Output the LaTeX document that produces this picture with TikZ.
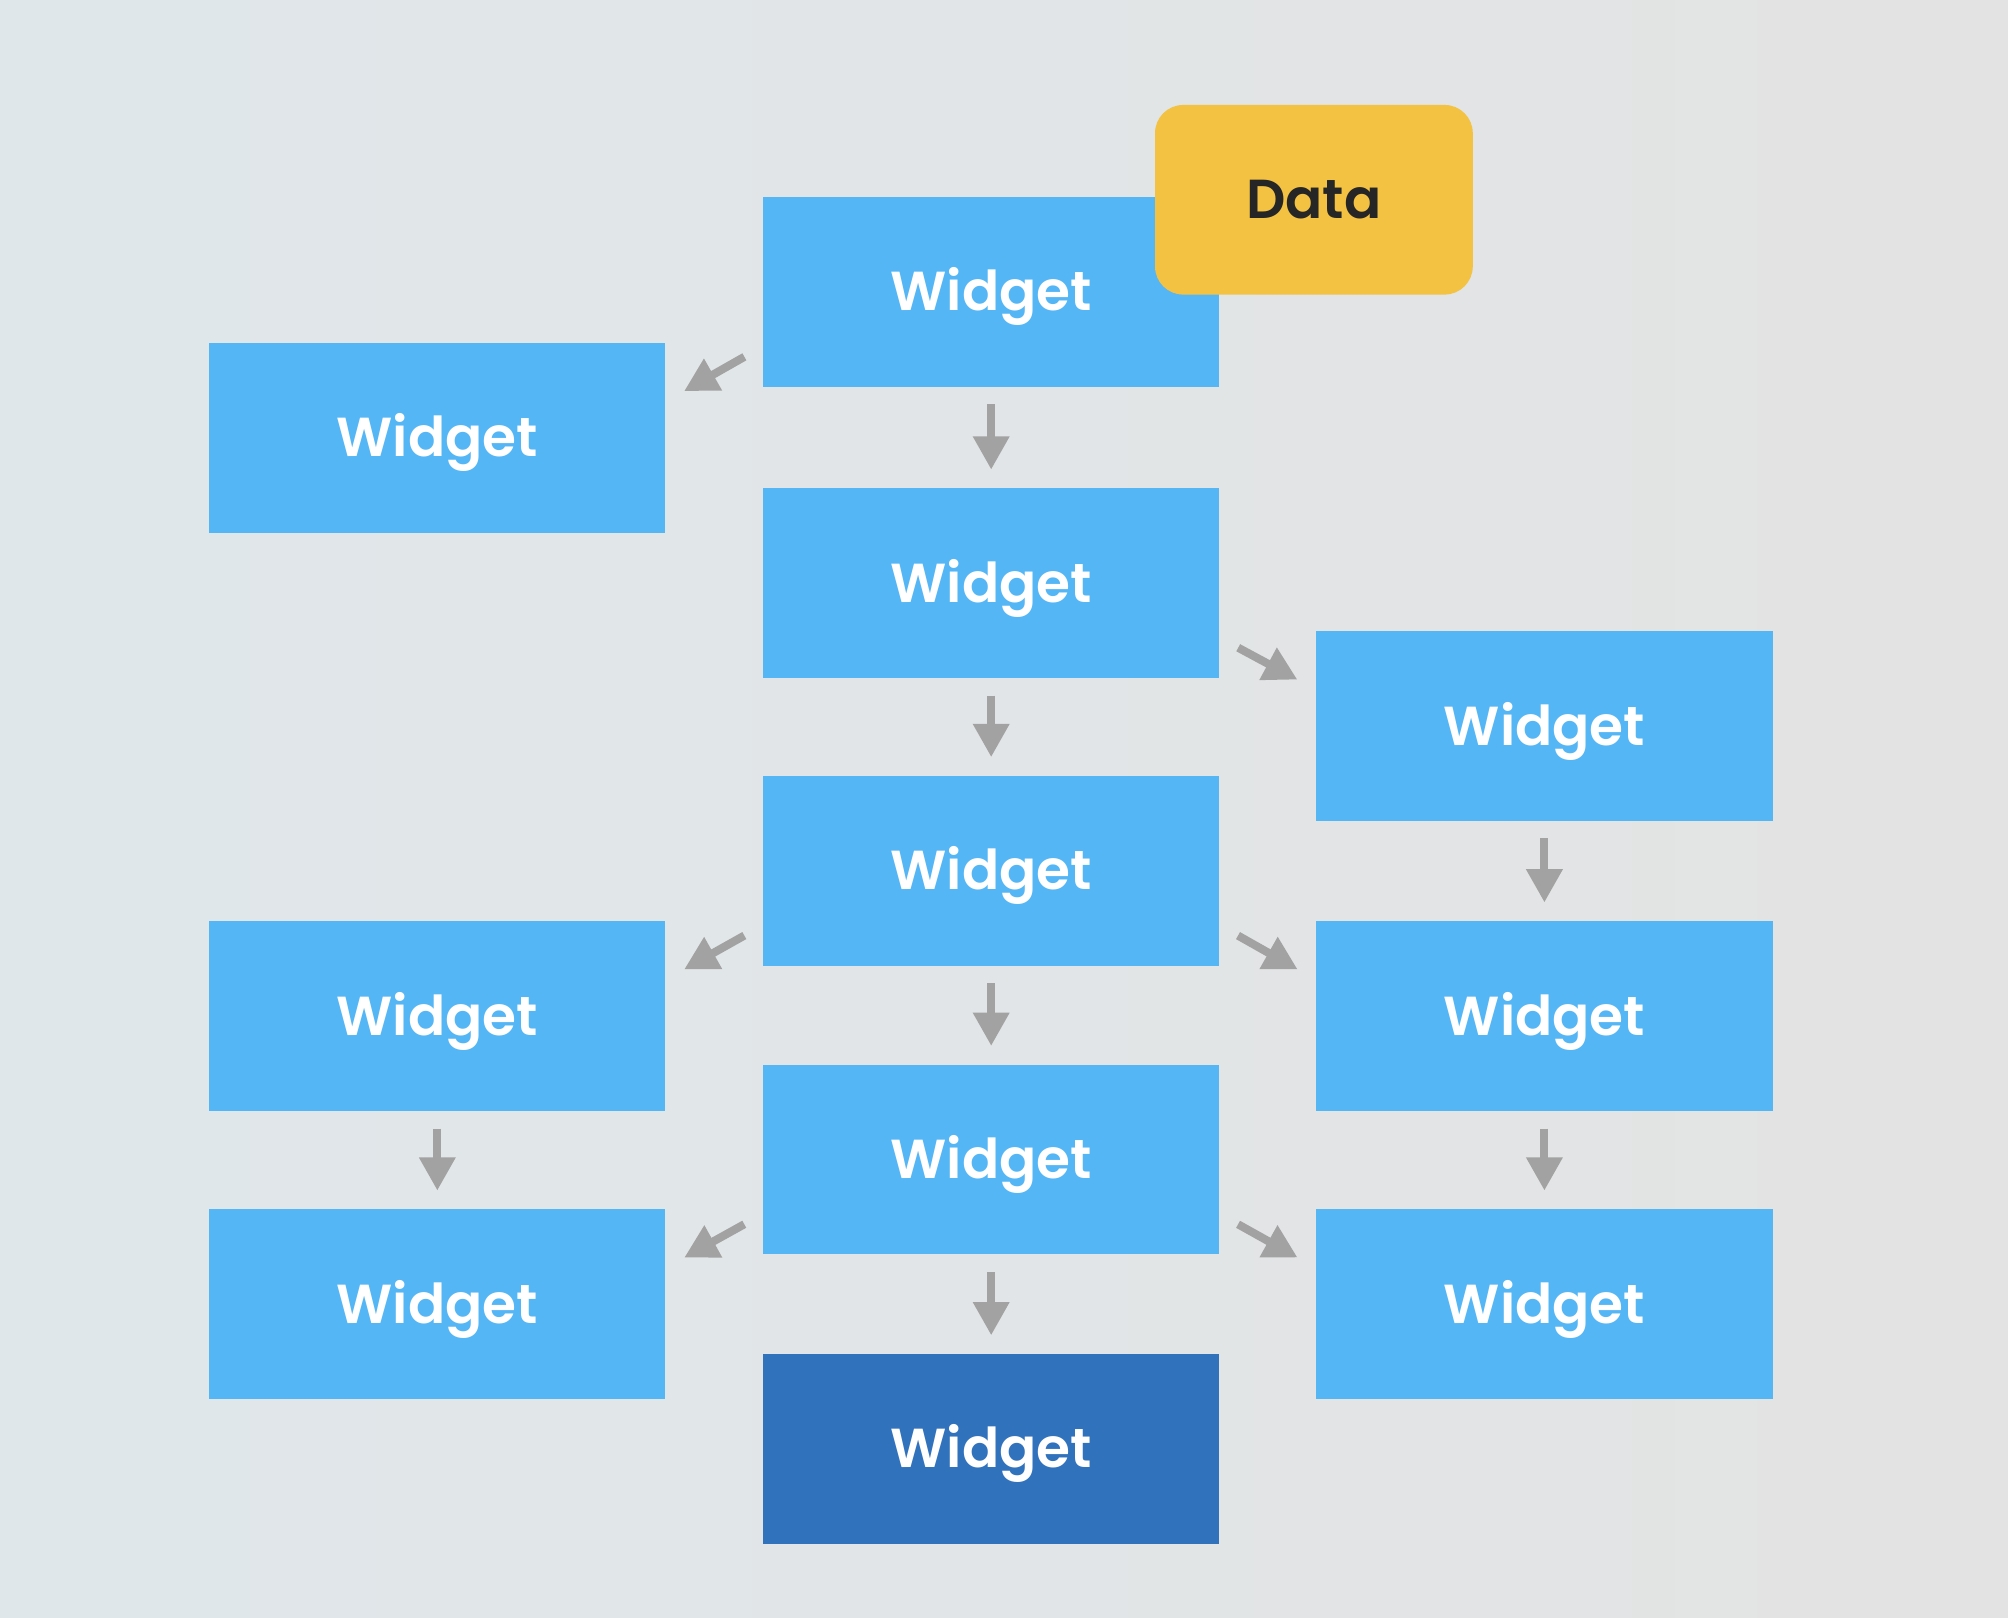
\documentclass[tikz,border=0pt]{standalone}
\usepackage{fontspec}
\setmainfont{Poppins}[BoldFont={Poppins SemiBold}]
\usetikzlibrary{arrows.meta}

\definecolor{widgetblue}{HTML}{55B6F6}
\definecolor{widgetdark}{HTML}{3172BD}
\definecolor{datayellow}{HTML}{F4C242}
\definecolor{flowgray}{HTML}{A2A2A2}
\definecolor{bgleft}{HTML}{E0E7EB}
\definecolor{bgright}{HTML}{E3E3E3}

\begin{document}
\begin{tikzpicture}[
					x=0.01cm, y=0.01cm,
					widget/.style={fill=widgetblue, text=white, minimum width=3.56cm, minimum height=1.48cm, inner sep=0pt, text height=8.4pt, text depth=0pt, font=\bfseries\fontsize{12.2}{15}\selectfont},
					flow/.style={-{Triangle[width=0.27cm,length=0.26cm]}, draw=flowgray, line width=1.8pt, shorten <=0.13cm, shorten >=0.14cm},
					slant/.style={flow, shorten <=0.16cm, shorten >=0.16cm}
					]

					\shade[left color=bgleft, right color=bgright] (0,0) rectangle (1568,1263);
					\useasboundingbox (0,0) rectangle (1568,1263);

					% middle column
					\node[widget] (c1) at (774,1035) {Widget};
					\node[widget] (c2) at (774,807.5) {Widget};
					\node[widget] (c3) at (774,583) {Widget};
					\node[widget] (c4) at (774,357.5) {Widget};
					\node[widget, fill=widgetdark] (c5) at (774,131.5) {Widget};

					% left column
					\node[widget] (l1) at (341.5,921) {Widget};
					\node[widget] (l2) at (341.5,469.5) {Widget};
					\node[widget] (l3) at (341.5,244.5) {Widget};

					% right column
					\node[widget] (r1) at (1206,696) {Widget};
					\node[widget] (r2) at (1206,469.5) {Widget};
					\node[widget] (r3) at (1206,244.5) {Widget};

					\node[widget, fill=datayellow, text={black!85}, minimum width=2.48cm, rounded corners=0.22cm] (data) at (1026,1107) {Data};

					\draw[flow] (c1) -- (c2);
					\draw[flow] (c2) -- (c3);
					\draw[flow] (c3) -- (c4);
					\draw[flow] (c4) -- (c5);
					\draw[flow] (l2) -- (l3);
					\draw[flow] (r1) -- (r2);
					\draw[flow] (r2) -- (r3);

					\draw[slant] ([yshift=0.32cm]c1.south west) -- ([yshift=-0.46cm]l1.north east);
					\draw[slant] ([yshift=0.32cm]c3.south west) -- ([yshift=-0.46cm]l2.north east);
					\draw[slant] ([yshift=0.32cm]c4.south west) -- ([yshift=-0.46cm]l3.north east);
					\draw[slant] ([yshift=0.32cm]c2.south east) -- ([yshift=-0.46cm]r1.north west);
					\draw[slant] ([yshift=0.32cm]c3.south east) -- ([yshift=-0.46cm]r2.north west);
					\draw[slant] ([yshift=0.32cm]c4.south east) -- ([yshift=-0.46cm]r3.north west);

				\end{tikzpicture}
\end{document}
